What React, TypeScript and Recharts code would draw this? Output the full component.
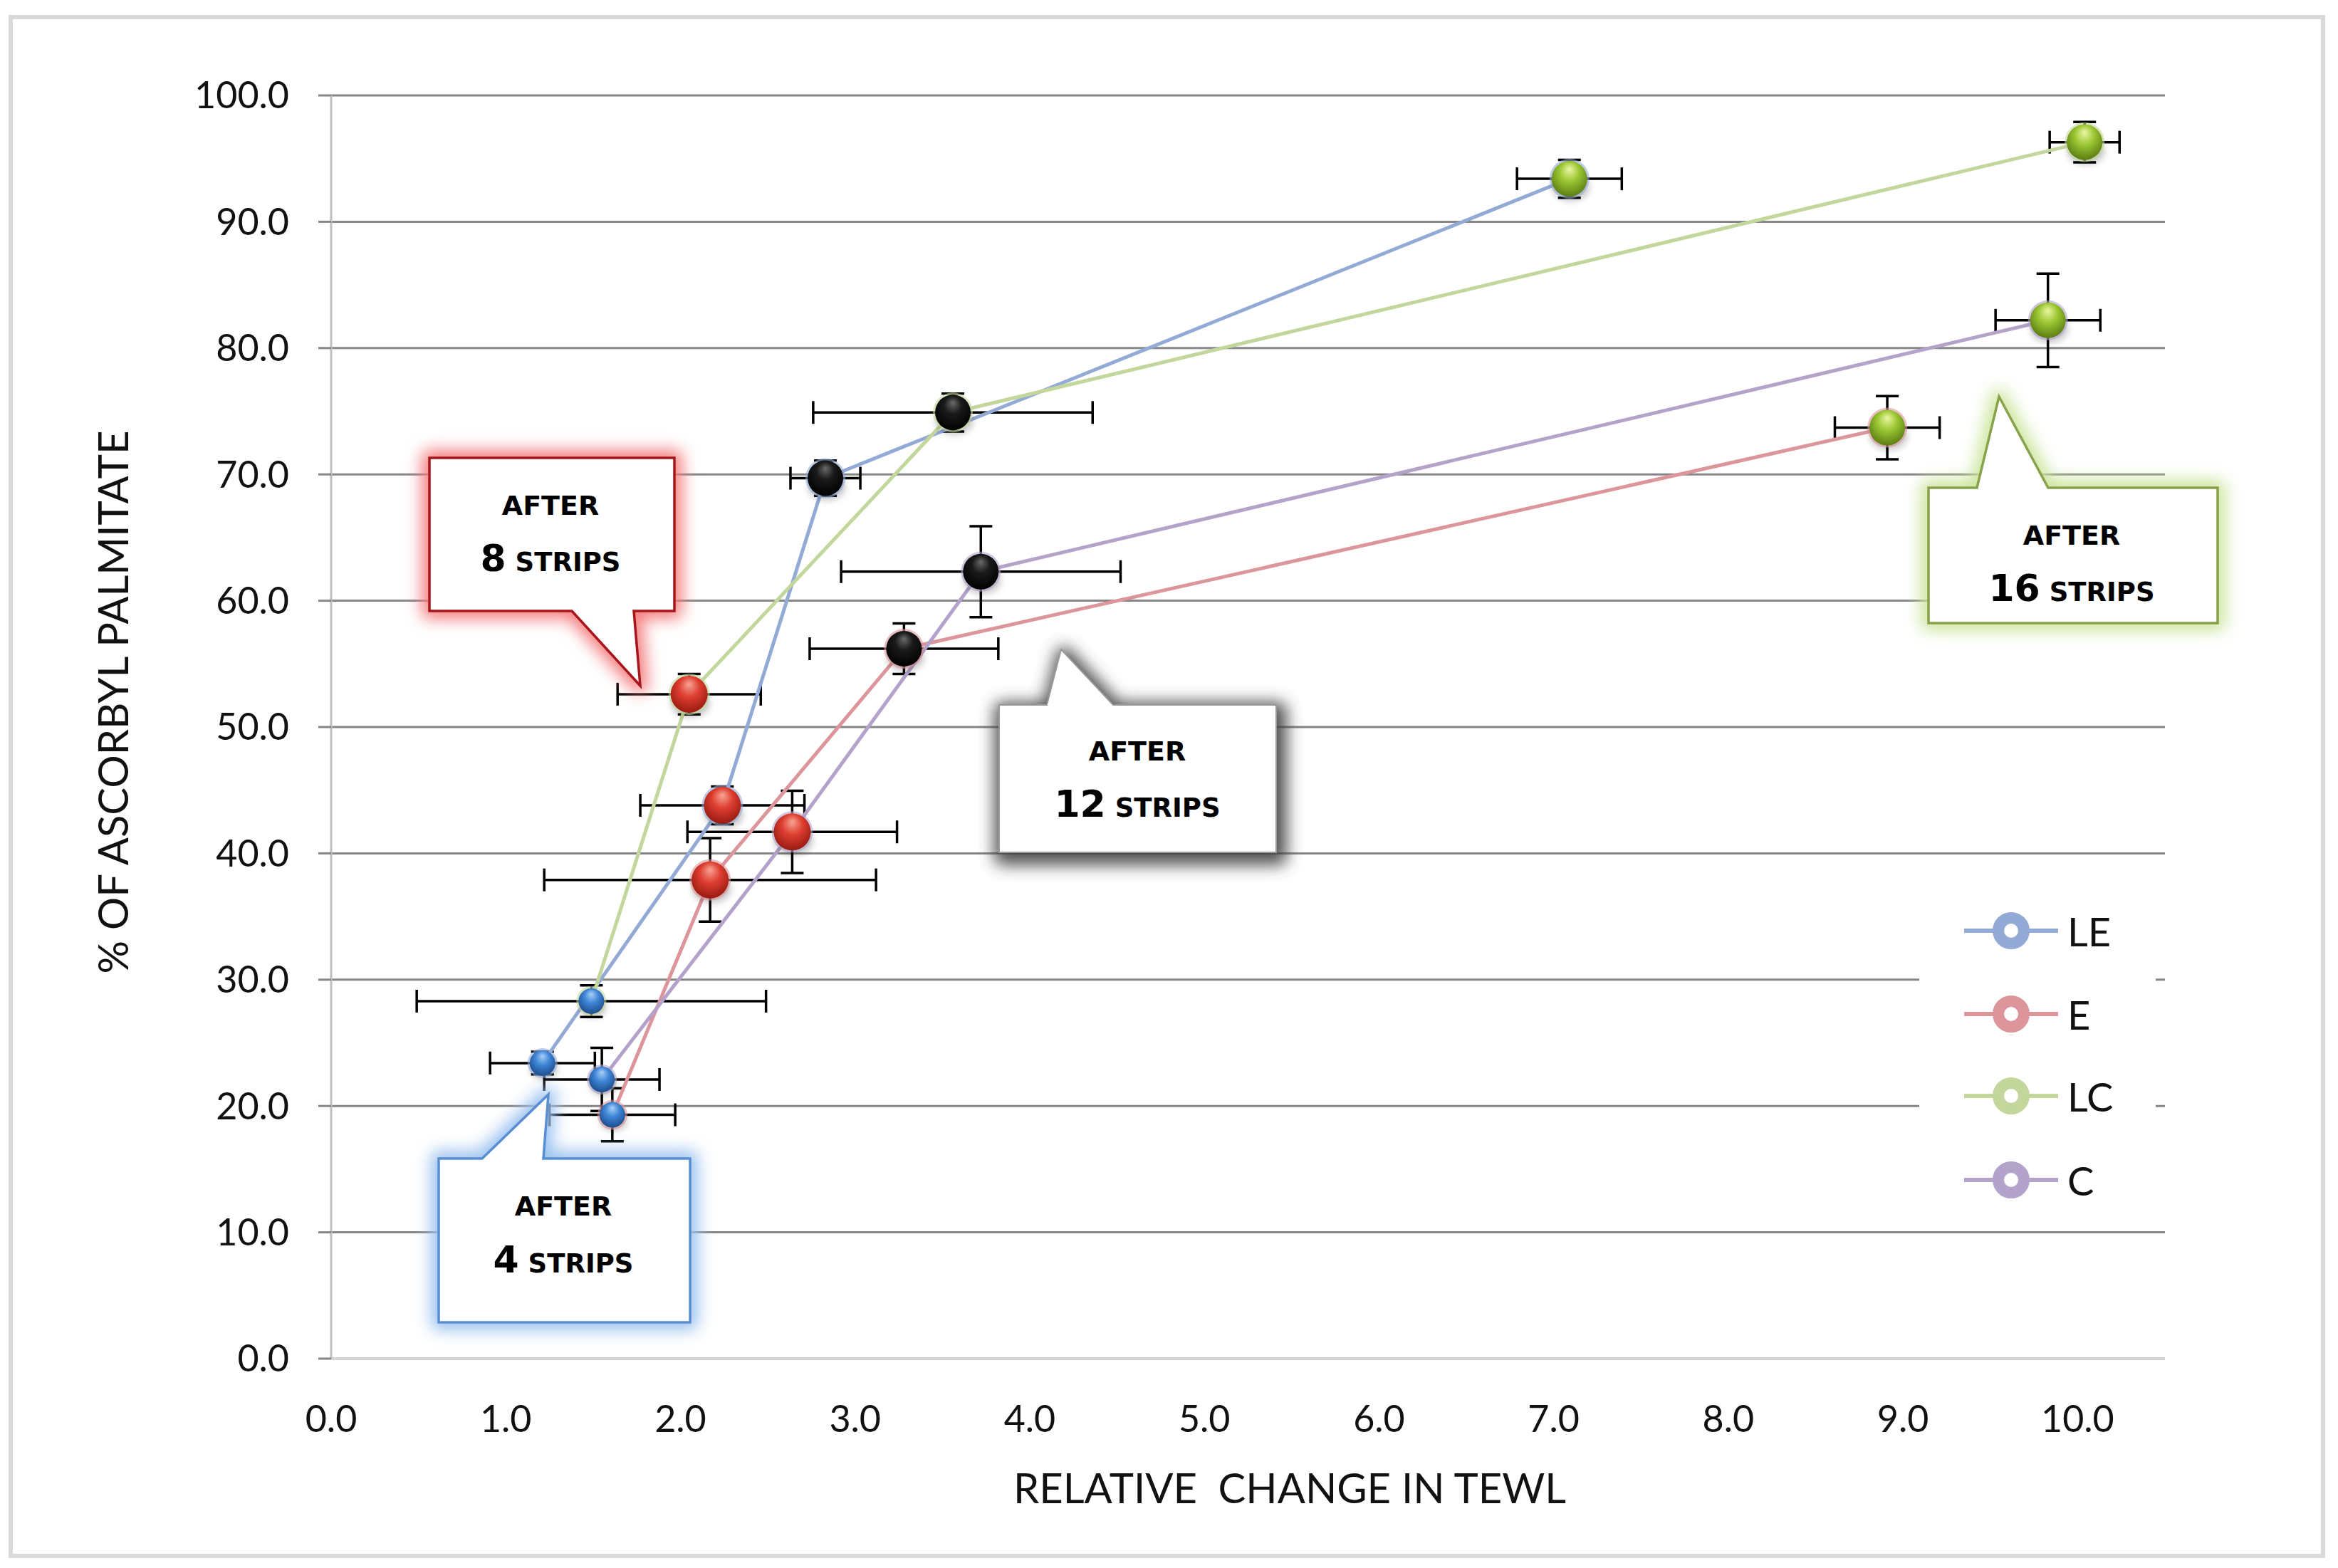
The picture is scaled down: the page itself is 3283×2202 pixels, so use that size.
import React from 'react';
import { ScatterChart, Scatter, XAxis, YAxis, CartesianGrid, ErrorBar } from 'recharts';

// ---------- data ----------
const SERIES_NAMES = ['LE', 'E', 'LC', 'C'];
const STAGES = [4, 8, 12, 16]; // number of tape strips

const LE_X = [1.21, 2.24, 2.83, 7.09];
const LE_Y = [23.4, 43.8, 69.7, 93.4];
const LE_XERR = [0.3, 0.47, 0.2, 0.3];
const LE_YERR = [0.9, 1.5, 1.4, 1.5];

const E_X = [1.61, 2.17, 3.28, 8.91];
const E_Y = [19.3, 37.9, 56.2, 73.7];
const E_XERR = [0.36, 0.95, 0.54, 0.3];
const E_YERR = [2.1, 3.3, 2.0, 2.5];

const LC_X = [1.49, 2.05, 3.56, 10.04];
const LC_Y = [28.3, 52.6, 74.9, 96.3];
const LC_XERR = [1.0, 0.41, 0.8, 0.2];
const LC_YERR = [1.25, 1.6, 1.5, 1.6];

const C_X = [1.55, 2.64, 3.72, 9.83];
const C_Y = [22.1, 41.7, 62.3, 82.2];
const C_XERR = [0.33, 0.6, 0.8, 0.3];
const C_YERR = [2.5, 3.25, 3.6, 3.7];

const X_TICKS = [0, 1, 2, 3, 4, 5, 6, 7, 8, 9, 10];
const Y_TICKS = [0, 10, 20, 30, 40, 50, 60, 70, 80, 90, 100];

const build = (xs: number[], ys: number[], xe: number[], ye: number[]) =>
  xs.map((x, i) => ({ x, y: ys[i], xe: xe[i], ye: ye[i], stage: i, strips: STAGES[i] }));

const SERIES_DATA = [
  build(LE_X, LE_Y, LE_XERR, LE_YERR),
  build(E_X, E_Y, E_XERR, E_YERR),
  build(LC_X, LC_Y, LC_XERR, LC_YERR),
  build(C_X, C_Y, C_XERR, C_YERR),
];

// ---------- styles ----------
const W = 3283;
const H = 2202;
const SERIES_COLORS = ['#93aad6', '#dc959a', '#c3d69b', '#b3a2c9'];
const STAGE_STYLE = [
  { r: 18, grad: 'sphBlue' },
  { r: 26, grad: 'sphRed' },
  { r: 25, grad: 'sphBlack' },
  { r: 25, grad: 'sphGreen' },
];
const AXIS_FONT = 'Lato, "Open Sans", sans-serif';
const CALLOUT_FONT = '"DejaVu Sans", Verdana, sans-serif';

const makeMarker = (seriesColor: string) => (props: any) => {
  const { cx, cy, payload } = props;
  if (cx == null || cy == null || !payload) return <g />;
  const st = STAGE_STYLE[payload.stage];
  return (
    <g>
      <ellipse cx={cx + 2} cy={cy + st.r * 0.5} rx={st.r * 1.05} ry={st.r * 0.75} fill="#000" opacity={0.22} filter="url(#softBlur)" />
      <circle cx={cx} cy={cy} r={st.r + 3} fill={seriesColor} opacity={0.6} />
      <circle cx={cx} cy={cy} r={st.r} fill={`url(#${st.grad})`} />
    </g>
  );
};

const noShape = () => <g />;

const CALLOUTS = [
  { d: 'M603,643 H947 V858 H890 L899,963 L803,858 H603 Z', border: '#a8151a', glow: '#f47f80', kind: 'glow', tx: 773, ty1: 723, ty2: 802, num: '8' },
  { d: 'M616,1627 H677 L770,1537 L763,1627 H969 V1857 H616 Z', border: '#5a8ed2', glow: '#9cc2ef', kind: 'glow', tx: 791, ty1: 1707, ty2: 1787, num: '4' },
  { d: 'M1403,990 H1470 L1490,912 L1563,990 H1792 V1197 H1403 Z', border: '#9a9a9a', glow: '#3f3f3f', kind: 'shadow', tx: 1597, ty1: 1068, ty2: 1147, num: '12' },
  { d: 'M2708,685 H2776 L2807,557 L2876,685 H3114 V875 H2708 Z', border: '#86a24a', glow: '#cde59e', kind: 'glow', tx: 2909, ty1: 765, ty2: 844, num: '16' },
];

const LEGEND_Y = [1307, 1424, 1539, 1657];

export default function App() {
  return (
    <div style={{ position: 'fixed', left: 0, top: 0, width: W, height: H, background: '#fff' }}>
      <ScatterChart width={W} height={H} margin={{ top: 134, right: 243, left: 0, bottom: 0 }}>
        <defs>
          <radialGradient id="sphBlue" cx="50%" cy="40%" r="62%" fx="50%" fy="22%">
            <stop offset="0%" stopColor="#a9d0f7" />
            <stop offset="45%" stopColor="#3f86d6" />
            <stop offset="100%" stopColor="#1b4a8a" />
          </radialGradient>
          <radialGradient id="sphRed" cx="50%" cy="40%" r="62%" fx="50%" fy="22%">
            <stop offset="0%" stopColor="#f7a595" />
            <stop offset="45%" stopColor="#df3f31" />
            <stop offset="100%" stopColor="#951810" />
          </radialGradient>
          <radialGradient id="sphBlack" cx="50%" cy="40%" r="62%" fx="50%" fy="22%">
            <stop offset="0%" stopColor="#6a6a6a" />
            <stop offset="40%" stopColor="#1a1a1a" />
            <stop offset="100%" stopColor="#000" />
          </radialGradient>
          <radialGradient id="sphGreen" cx="50%" cy="40%" r="62%" fx="50%" fy="22%">
            <stop offset="0%" stopColor="#eaf7a4" />
            <stop offset="45%" stopColor="#9cc733" />
            <stop offset="100%" stopColor="#587a12" />
          </radialGradient>
          <filter id="softBlur" x="-50%" y="-50%" width="200%" height="200%">
            <feGaussianBlur stdDeviation="5" />
          </filter>
        </defs>
        <CartesianGrid horizontal vertical={false} stroke="#868686" strokeWidth={3} />
        <XAxis
          type="number"
          dataKey="x"
          domain={[0, 10.5]}
          ticks={X_TICKS}
          allowDataOverflow
          height={294}
          tickFormatter={(v: number) => v.toFixed(1)}
          axisLine={{ stroke: '#d9d9d9', strokeWidth: 3 }}
          tickLine={false}
          tickSize={0}
          tickMargin={66}
          tick={{ fontSize: 52, fill: '#111', fontFamily: AXIS_FONT }}
        />
        <YAxis
          type="number"
          dataKey="y"
          domain={[0, 100]}
          ticks={Y_TICKS}
          allowDataOverflow
          width={465}
          tickFormatter={(v: number) => v.toFixed(1)}
          axisLine={{ stroke: '#bfbfbf', strokeWidth: 3 }}
          tickLine={{ stroke: '#868686', strokeWidth: 3 }}
          tickSize={18}
          tickMargin={41}
          tick={{ fontSize: 52, fill: '#111', fontFamily: AXIS_FONT }}
        />
        {SERIES_DATA.map((data, i) => (
          <Scatter
            key={'line-' + SERIES_NAMES[i]}
            name={SERIES_NAMES[i] + ' line'}
            data={data}
            fill={SERIES_COLORS[i]}
            line={{ stroke: SERIES_COLORS[i], strokeWidth: 5 }}
            shape={noShape}
            isAnimationActive={false}
          />
        ))}
        {SERIES_DATA.map((data, i) => (
          <Scatter
            key={'pts-' + SERIES_NAMES[i]}
            name={SERIES_NAMES[i]}
            data={data}
            fill={SERIES_COLORS[i]}
            shape={makeMarker(SERIES_COLORS[i])}
            isAnimationActive={false}
          >
            <ErrorBar dataKey="xe" direction="x" stroke="#000" strokeWidth={3.5} width={16} isAnimationActive={false} />
            <ErrorBar dataKey="ye" direction="y" stroke="#000" strokeWidth={3.5} width={16} isAnimationActive={false} />
          </Scatter>
        ))}
      </ScatterChart>

      <svg width={W} height={H} style={{ position: 'absolute', left: 0, top: 0, pointerEvents: 'none' }}>
        <defs>
          <filter id="glowBlur" x="-30%" y="-30%" width="160%" height="160%">
            <feGaussianBlur stdDeviation="11" />
          </filter>
        </defs>
        <rect x={15} y={24} width={3247} height={2161} fill="none" stroke="#d9d9d9" strokeWidth={6} />

        <text
          x={157}
          y={986}
          transform="rotate(-90 157 986)"
          textAnchor="middle"
          dominantBaseline="central"
          fontFamily={AXIS_FONT}
          fontSize={58}
          fill="#111"
        >
          % OF ASCORBYL PALMITATE
        </text>
        <text
          x={1811}
          y={2088}
          textAnchor="middle"
          dominantBaseline="central"
          fontFamily={AXIS_FONT}
          fontSize={58}
          fill="#111"
          style={{ whiteSpace: 'pre' }}
        >
          {'RELATIVE  CHANGE IN TEWL'}
        </text>

        {CALLOUTS.map((c) => (
          <g key={c.num}>
            {c.kind === 'glow' ? (
              <path d={c.d} fill={c.glow} stroke={c.glow} strokeWidth={22} strokeLinejoin="round" filter="url(#glowBlur)" />
            ) : (
              <path d={c.d} transform="translate(4,7)" fill={c.glow} stroke={c.glow} strokeWidth={22} strokeLinejoin="round" filter="url(#glowBlur)" opacity={0.9} />
            )}
            <path d={c.d} fill="#fff" stroke={c.border} strokeWidth={c.kind === 'glow' ? 3.5 : 2} />
            <text x={c.tx} y={c.ty1} textAnchor="middle" fontFamily={CALLOUT_FONT} fontWeight="bold" fontSize={38} fill="#000">
              AFTER
            </text>
            <text x={c.tx} y={c.ty2} textAnchor="middle" fontFamily={CALLOUT_FONT} fontWeight="bold" fill="#000">
              <tspan fontSize={52}>{c.num}</tspan>
              <tspan fontSize={37}>{' STRIPS'}</tspan>
            </text>
          </g>
        ))}

        <rect x={2695} y={1240} width={332} height={460} fill="#fff" />
        {SERIES_NAMES.map((n, i) => (
          <g key={n}>
            <line x1={2758} y1={LEGEND_Y[i]} x2={2890} y2={LEGEND_Y[i]} stroke={SERIES_COLORS[i]} strokeWidth={6} />
            <circle cx={2824} cy={LEGEND_Y[i]} r={18} fill="#fff" stroke={SERIES_COLORS[i]} strokeWidth={16} />
            <text x={2903} y={LEGEND_Y[i]} dominantBaseline="central" fontFamily={AXIS_FONT} fontSize={56} fill="#111">
              {n}
            </text>
          </g>
        ))}
      </svg>
    </div>
  );
}
